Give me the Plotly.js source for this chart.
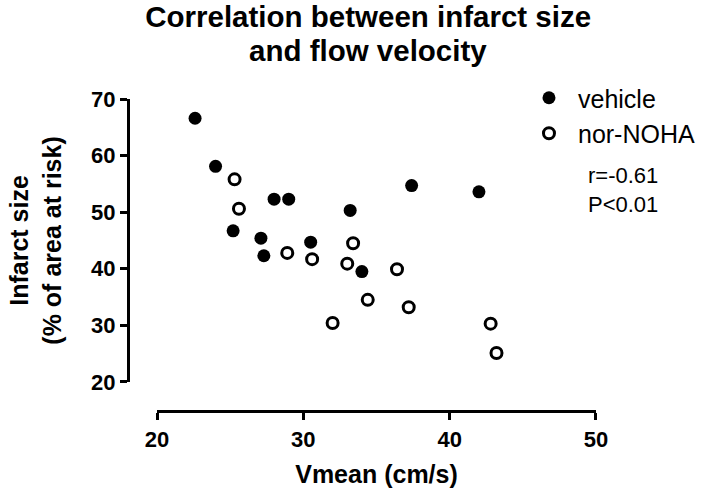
<!DOCTYPE html>
<html>
<head>
<meta charset="utf-8">
<script src="https://cdn.plot.ly/plotly-3.0.1.min.js"></script>
<style>
  html, body { margin: 0; padding: 0; background: #fff; }
  #chart { width: 704px; height: 493px; }
</style>
</head>
<body>
<div id="chart"></div>
<script>
// Vmean (cm/s) vs infarct size (% of area at risk)
var vehicleX = [22.6, 24.0, 25.2, 27.1, 27.3, 28.0, 29.0, 30.5, 33.2, 34.0, 37.4, 42.0];
var vehicleY = [66.6, 58.1, 46.7, 45.4, 42.3, 52.3, 52.3, 44.7, 50.3, 39.5, 54.7, 53.6];
var norX = [25.3, 25.6, 28.9, 30.6, 32.0, 33.0, 33.4, 34.4, 36.4, 37.2, 42.8, 43.2];
var norY = [55.8, 50.6, 42.8, 41.7, 30.4, 40.9, 44.5, 34.5, 39.9, 33.2, 30.3, 25.1];
var xTicks = [20, 30, 40, 50];
var yTicks = [20, 30, 40, 50, 60, 70];

var fontFam = 'Arial, "Liberation Sans", sans-serif';

var data = [
  { x: vehicleX, y: vehicleY,
    name: 'vehicle',
    type: 'scatter', mode: 'markers',
    marker: {symbol: 'circle', size: 13, color: '#000'},
    cliponaxis: false
  },
  { x: norX, y: norY,
    name: 'nor-NOHA',
    type: 'scatter', mode: 'markers',
    marker: {symbol: 'circle-open', size: 11, color: '#000', line: {width: 3, color: '#000'}},
    cliponaxis: false
  }
];

var layout = {
  width: 704,
  height: 493,
  paper_bgcolor: '#fff',
  plot_bgcolor: '#fff',
  // fixed margins, the legend must not push the plot area
  margin: {l: 125, r: 108, t: 99, b: 80, pad: 0, autoexpand: false},
  font: {family: fontFam, color: '#000'},
  // first title line; the second line is an annotation so the line gap matches
  title: {
    text: 'Correlation between infarct size',
    font: {family: fontFam, size: 29.5, weight: 'bold', color: '#000'},
    xref: 'container', x: 0.523, xanchor: 'center',
    yref: 'container', y: 0.9655, yanchor: 'middle'
  },
  xaxis: {
    domain: [0.068, 1],
    range: [20, 50],
    anchor: 'free', position: 0.006,
    tickvals: xTicks,
    ticks: 'outside', ticklen: 7, tickwidth: 3, tickcolor: '#000',
    showline: true, linewidth: 3, linecolor: '#000',
    showgrid: false, zeroline: false,
    tickfont: {family: fontFam, size: 22, weight: 'bold', color: '#000'},
    title: {text: 'Vmean (cm/s)', standoff: 14,
      font: {family: fontFam, size: 25, weight: 'bold', color: '#000'}}
  },
  yaxis: {
    domain: [0.099, 1],
    range: [20, 70],
    anchor: 'free', position: 0.006,
    tickvals: yTicks,
    ticks: 'outside', ticklen: 7, tickwidth: 3, tickcolor: '#000',
    showline: true, linewidth: 3, linecolor: '#000',
    showgrid: false, zeroline: false,
    tickfont: {family: fontFam, size: 22, weight: 'bold', color: '#000'},
    title: {text: 'Infarct size<br>(% of area at risk)', standoff: 21,
      font: {family: fontFam, size: 25, weight: 'bold', color: '#000'}}
  },
  showlegend: true,
  legend: {
    x: 0.8386, xanchor: 'left',
    y: 1.0764, yanchor: 'top',
    itemwidth: 48,
    bgcolor: 'rgba(0,0,0,0)',
    font: {family: fontFam, size: 25, color: '#000'},
    tracegroupgap: 0
  },
  annotations: [
    { xref: 'paper', yref: 'paper',
      x: 0.516, y: 1.156, xanchor: 'center', yanchor: 'middle',
      showarrow: false,
      text: 'and flow velocity',
      font: {family: fontFam, size: 29.5, weight: 'bold', color: '#000'}
    },
    { xref: 'paper', yref: 'paper',
      x: 0.979, y: 0.71, xanchor: 'left', yanchor: 'middle',
      align: 'left', showarrow: false,
      text: 'r=-0.61<br>P&lt;0.01',
      font: {family: fontFam, size: 22, color: '#000'}
    }
  ]
};

Plotly.newPlot('chart', data, layout, {displayModeBar: false, staticPlot: true});
</script>
</body>
</html>
